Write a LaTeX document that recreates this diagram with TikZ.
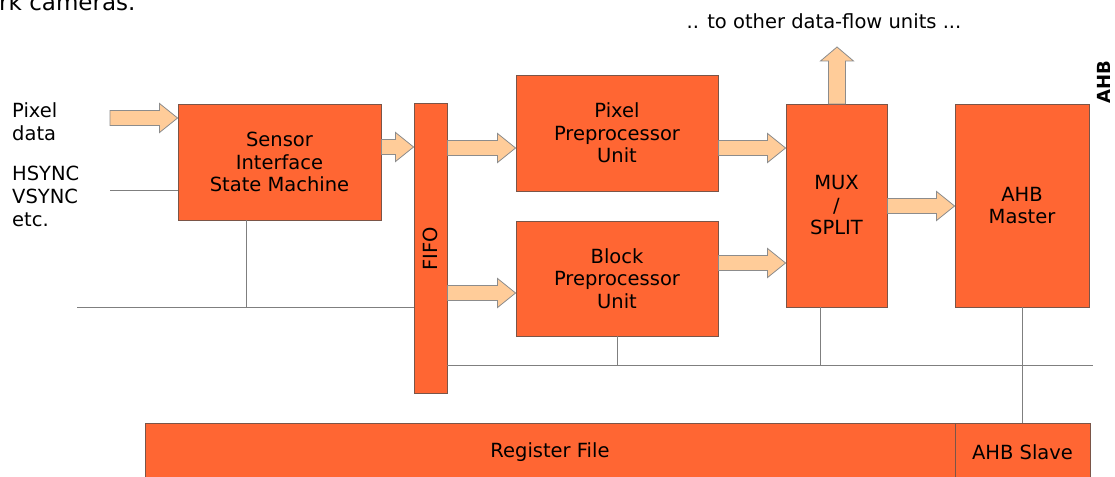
\documentclass[tikz,border=0pt]{standalone}
\usepackage{fontspec}
\setmainfont{DejaVu Sans}
\usetikzlibrary{calc}
\definecolor{boxor}{HTML}{FF6633}
\definecolor{peach}{HTML}{FFCC99}
\definecolor{boxedge}{HTML}{7A5548}
\definecolor{wire}{HTML}{7F7F7F}
\tikzset{
  blk/.style={draw=boxedge, line width=0.9pt, fill=boxor, rectangle, inner sep=0pt, align=center, font=\fontsize{19.5}{22.5}\selectfont},
  fat/.style={draw=wire!90, line width=0.8pt, fill=peach},
  wireline/.style={draw=wire, line width=0.9pt},
  lbl/.style={inner sep=0pt, align=left, font=\fontsize{19.5}{23}\selectfont}
}
% horizontal fat arrow: #1 start, #2 tip
\newcommand\harrow[2]{%
  \draw[fat] ($(#1)+(0,-7.5)$) -- ($(#2)+(-18,-7.5)$) -- ($(#2)+(-18,-14.5)$) -- (#2)
    -- ($(#2)+(-18,14.5)$) -- ($(#2)+(-18,7.5)$) -- ($(#1)+(0,7.5)$) -- cycle;}
\begin{document}
\begin{tikzpicture}[x=1pt,y=-1pt]
\useasboundingbox (0,0) rectangle (1115,476);

% top texts
\node[anchor=base west, inner sep=0pt, font=\fontsize{23}{28}\selectfont] (cut) at (-1,11) {rk cameras.};
\node[anchor=center, inner sep=0pt, font=\fontsize{19.5}{22}\selectfont] (other) at (824,21) {.. to other data-flow units ...};
\node[rotate=90, inner sep=0pt, font=\bfseries\fontsize{18}{20}\selectfont] (ahb) at (1104,82) {AHB};

% left labels
\node[lbl, anchor=north west] (pix) at (12,102) {Pixel\\data};
\node[lbl, anchor=north west] (sync) at (12,166) {HSYNC\\VSYNC\\etc.};

% blocks
\node[blk, minimum width=203, minimum height=116] (sensor) at (279.5,162) {Sensor\\Interface\\State Machine};
\node[blk, minimum width=33, minimum height=290] (fifo) at (430.5,248.5) {};
\node[rotate=90, inner sep=0pt, font=\fontsize{19.5}{22}\selectfont] (fifot) at (fifo) {FIFO};
\node[blk, minimum width=202, minimum height=116] (ppu) at (617,133) {Pixel\\Preprocessor\\Unit};
\node[blk, minimum width=202, minimum height=115] (bpu) at (617,278.5) {Block\\Preprocessor\\Unit};
\node[blk, minimum width=101, minimum height=203] (mux) at (836.5,205.5) {MUX\\/\\SPLIT};
\node[blk, minimum width=134, minimum height=203] (ahbm) at (1022,205.5) {AHB\\Master};
\node[blk, minimum width=810, minimum height=57] (reg) at (550,452) {Register File};
\node[blk, minimum width=135, minimum height=57] (slave) at (1022.5,452) {AHB Slave};

% coordinates for arrows
\coordinate (p1) at (110,118);
\coordinate (y147) at (0,147);
\coordinate (y148) at (0,148);
\coordinate (y293) at (0,293);
\coordinate (y263) at (0,263);
\coordinate (y206) at (0,206);

\harrow{p1}{sensor.west |- p1}
\harrow{sensor.east |- y147}{fifo.west |- y147}
\harrow{fifo.east |- y148}{ppu.west |- y148}
\harrow{fifo.east |- y293}{bpu.west |- y293}
\harrow{ppu.east |- y148}{mux.west |- y148}
\harrow{bpu.east |- y263}{mux.west |- y263}
\harrow{mux.east |- y206}{ahbm.west |- y206}

% up arrow from MUX
\coordinate (upb) at (837,104);
\coordinate (upt) at (837,47);
\draw[fat] ($(upb)+(-8.5,0)$) -- ($(upb)+(-8.5,-43)$) -- ($(upb)+(-16.5,-43)$) -- (upt)
   -- ($(upb)+(16.5,-43)$) -- ($(upb)+(8.5,-43)$) -- ($(upb)+(8.5,0)$) -- cycle;

% wires
\coordinate (hs) at (110,190.5);
\draw[wireline] (hs) -- (sensor.west |- hs);
\coordinate (lb) at (77,307);
\coordinate (sb) at (246,307);
\draw[wireline] (lb) -- (fifo.west |- lb);
\draw[wireline] (sensor.south -| sb) -- (sb);
\coordinate (busr) at (1093,365);
\draw[wireline] (fifo.east |- busr) -- (busr);
\draw[wireline] (bpu.south) -- (bpu.south |- busr);
\coordinate (mx) at (820,365);
\draw[wireline] (mux.south -| mx) -- (mx);
\draw[wireline] (ahbm.south) -- (slave.north -| ahbm.south);
\end{tikzpicture}
\end{document}
